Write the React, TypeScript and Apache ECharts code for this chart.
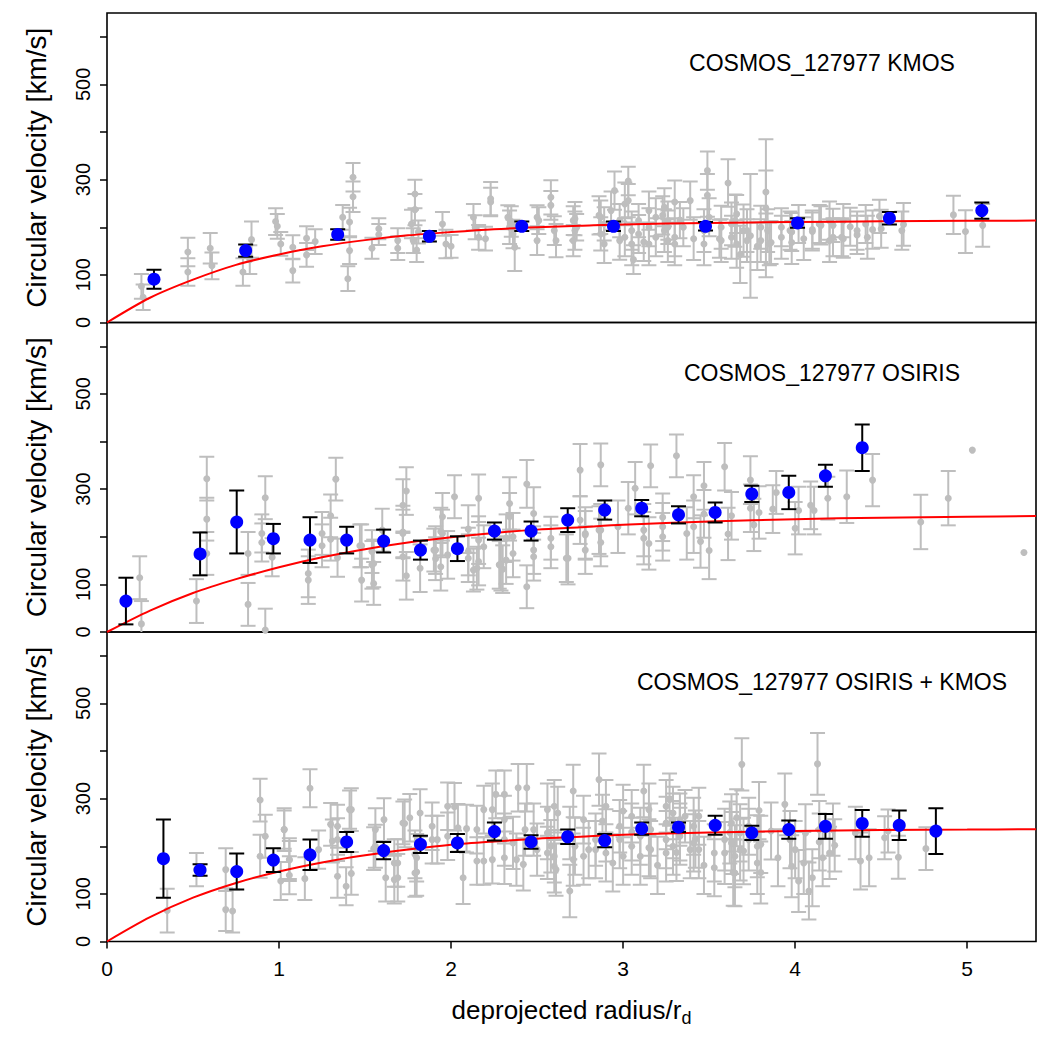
import React, { useEffect, useRef } from "react";
import * as echarts from "echarts";

const FONT = "'Liberation Sans', Arial, Helvetica, sans-serif";

const panelTitles = [
  "COSMOS_127977 KMOS",
  "COSMOS_127977 OSIRIS",
  "COSMOS_127977 OSIRIS + KMOS",
];

const radiusTicks = [0, 1, 2, 3, 4, 5];
const velocityTicks = [0, 100, 200, 300, 400, 500, 600];
const velocityLabels = [0, 100, 300, 500];

// Individual spaxels: [radius / r_d, circular velocity (km/s), 1-sigma error]
const kmosSpaxels = [
  [0.2, 76, 26], [0.21, 53, 27], [0.47, 148, 30], [0.47, 106, 29], [0.6, 156, 32], [0.61, 119, 28],
  [0.79, 106, 29], [0.84, 174, 38], [0.83, 132, 30], [0.98, 212, 28], [0.99, 202, 26], [1.01, 165, 25],
  [1.08, 158, 25], [1.08, 109, 25], [1.16, 177, 25], [1.16, 142, 25], [1.21, 170, 26], [1.37, 221, 26],
  [1.4, 92, 26], [1.41, 211, 30], [1.41, 151, 28], [1.43, 305, 30], [1.43, 264, 32], [1.54, 156, 22],
  [1.58, 197, 22], [1.58, 185, 22], [1.69, 172, 26], [1.69, 156, 25], [1.77, 207, 30], [1.78, 172, 26],
  [1.79, 270, 30], [1.79, 237, 33], [1.8, 152, 25], [1.81, 190, 24], [1.95, 207, 25], [1.97, 165, 30],
  [2.0, 160, 24], [2.13, 221, 28], [2.14, 200, 25], [2.16, 179, 26], [2.2, 176, 25], [2.23, 260, 35],
  [2.23, 253, 30], [2.33, 221, 25], [2.34, 200, 35], [2.35, 212, 32], [2.36, 186, 30], [2.37, 158, 50],
  [2.5, 221, 25], [2.5, 172, 30], [2.51, 214, 28], [2.58, 263, 36], [2.58, 246, 30], [2.6, 193, 30],
  [2.61, 172, 35], [2.71, 214, 30], [2.71, 172, 33], [2.73, 200, 28], [2.87, 221, 35], [2.87, 186, 35],
  [2.95, 277, 40], [3.01, 249, 45], [3.01, 179, 40], [3.03, 297, 30], [3.03, 256, 35], [3.06, 132, 30],
  [3.09, 214, 35], [3.09, 186, 40], [3.12, 169, 40], [3.23, 225, 40], [3.26, 200, 35], [3.3, 179, 40],
  [3.33, 215, 38], [3.39, 256, 40], [3.41, 176, 45], [3.49, 319, 40], [3.49, 267, 45], [3.56, 176, 40],
  [3.61, 293, 50], [3.65, 214, 55], [3.68, 143, 60], [3.7, 193, 55], [3.74, 182, 130], [3.78, 160, 50],
  [3.83, 274, 45], [3.83, 240, 145], [3.84, 193, 45], [3.86, 168, 45], [3.92, 200, 40], [3.98, 190, 40],
  [3.98, 168, 45], [4.05, 176, 45], [4.1, 195, 40], [4.15, 204, 40], [4.22, 204, 35], [4.22, 179, 40],
  [4.28, 176, 40], [4.28, 214, 35], [4.32, 201, 40], [4.36, 184, 40], [4.42, 179, 45], [4.45, 195, 40],
  [4.49, 223, 35], [4.5, 197, 40], [4.62, 193, 40], [4.63, 206, 45], [4.92, 226, 40], [4.99, 191, 45],
  [5.09, 204, 45],
  [2.72, 218, 35], [2.72, 193, 40], [2.86, 225, 40], [2.89, 207, 35], [2.89, 165, 40], [2.93, 235, 40],
  [2.98, 214, 35], [2.98, 172, 40], [3.05, 193, 40], [3.05, 165, 45], [3.15, 235, 40], [3.15, 200, 40],
  [3.15, 165, 45], [3.19, 221, 40], [3.19, 179, 40], [3.24, 242, 40], [3.24, 193, 45], [3.26, 214, 40],
  [3.26, 172, 45], [3.3, 253, 45], [3.3, 165, 45], [3.35, 200, 40], [3.47, 193, 45], [3.47, 165, 45],
  [3.5, 221, 40], [3.57, 200, 45], [3.57, 172, 45], [3.63, 207, 45], [3.63, 179, 45], [3.66, 228, 40],
  [3.66, 165, 50], [3.72, 193, 45], [3.72, 172, 45], [3.8, 200, 45], [3.8, 172, 45], [3.85, 165, 45],
  [3.92, 179, 45], [3.97, 193, 40], [4.02, 207, 40], [4.1, 191, 40], [4.14, 207, 40], [4.2, 214, 40],
  [4.2, 172, 45], [4.27, 179, 40], [4.36, 193, 40], [4.41, 207, 40],
];

const osirisSpaxels = [
  [0.19, 114, 45], [0.2, 17, 48], [0.52, 65, 46], [0.58, 322, 46], [0.58, 237, 45], [0.58, 165, 45],
  [0.82, 165, 45], [0.82, 58, 45], [0.92, 282, 45], [0.92, 4, 45], [0.9, 207, 40], [0.9, 188, 40],
  [0.96, 157, 40], [1.17, 123, 50], [1.17, 109, 50], [1.25, 207, 45], [1.3, 244, 45], [1.3, 195, 45],
  [1.33, 321, 45], [1.34, 156, 40], [1.48, 181, 45], [1.48, 109, 45], [1.55, 144, 50], [1.55, 102, 45],
  [1.72, 266, 55], [1.72, 210, 55], [1.72, 158, 50], [1.74, 296, 50], [1.74, 118, 50], [1.82, 134, 50],
  [1.91, 172, 50], [1.91, 154, 45], [1.95, 242, 50], [1.95, 207, 50], [2.02, 284, 45], [2.1, 216, 50],
  [2.1, 155, 50], [2.15, 134, 45], [2.16, 281, 50], [2.16, 193, 50], [2.29, 142, 55], [2.3, 132, 50],
  [2.34, 270, 55], [2.34, 242, 50], [2.36, 200, 50], [2.36, 165, 50], [2.44, 311, 50], [2.44, 95, 45],
  [2.48, 249, 55], [2.48, 172, 50], [2.58, 197, 45], [2.68, 155, 55], [2.75, 340, 55], [2.75, 235, 50],
  [2.78, 207, 55], [2.78, 172, 50], [2.87, 351, 45], [2.87, 214, 55], [2.87, 188, 50], [2.97, 221, 55],
  [3.03, 260, 55], [3.07, 302, 55], [3.12, 214, 55], [3.12, 197, 55], [3.15, 186, 55], [3.16, 349, 45],
  [3.23, 221, 50], [3.23, 200, 50], [3.23, 241, 50], [3.31, 370, 45], [3.37, 207, 55], [3.41, 284, 45],
  [3.41, 221, 55], [3.45, 190, 55], [3.47, 307, 50], [3.47, 248, 50], [3.5, 171, 60], [3.59, 347, 50],
  [3.61, 206, 55], [3.63, 244, 50], [3.74, 319, 50], [3.74, 260, 50], [3.76, 225, 55], [3.79, 251, 55],
  [3.87, 258, 50], [3.89, 293, 45], [4.0, 218, 55], [4.02, 255, 50], [4.09, 266, 50], [4.11, 255, 50],
  [4.19, 281, 45], [4.3, 284, 55], [4.45, 319, 55], [4.73, 231, 57], [4.89, 281, 57], [5.03, 382, 0],
  [5.33, 167, 0],
  [1.25, 181, 45], [1.47, 181, 45], [1.54, 169, 45], [1.54, 141, 50], [1.6, 214, 45], [1.72, 207, 50],
  [1.9, 172, 45], [1.94, 211, 50], [1.94, 137, 50], [1.98, 162, 50], [2.1, 169, 50], [2.13, 130, 45],
  [2.16, 148, 50], [2.19, 179, 45], [2.28, 141, 50], [2.32, 197, 50], [2.32, 151, 50], [2.48, 158, 50],
  [2.58, 179, 45], [2.67, 155, 50], [2.78, 204, 50], [2.86, 214, 50],
];

const combinedSpaxels = [
  [0.35, 65, 46], [0.52, 151, 35], [0.69, 151, 45], [0.69, 67, 45], [0.73, 64, 45], [0.89, 297, 45],
  [0.89, 179, 45], [0.92, 221, 45], [1.01, 127, 40], [1.03, 235, 45], [1.06, 139, 40], [1.06, 171, 40],
  [1.15, 132, 45], [1.18, 322, 40], [1.23, 193, 40], [1.31, 211, 45], [1.34, 137, 45], [1.34, 242, 45],
  [1.39, 116, 40], [1.42, 277, 45], [1.42, 143, 45], [1.55, 195, 45], [1.61, 256, 45], [1.62, 134, 50],
  [1.69, 134, 50], [1.69, 165, 50], [1.73, 248, 50], [1.76, 260, 50], [1.8, 146, 50], [1.8, 176, 50],
  [1.82, 270, 50], [1.92, 214, 50], [2.02, 283, 50], [2.07, 134, 55], [2.09, 237, 50], [2.19, 169, 50],
  [2.24, 277, 55], [2.24, 172, 50], [2.31, 309, 50], [2.36, 207, 55], [2.38, 172, 55], [2.42, 162, 55],
  [2.44, 323, 50], [2.48, 235, 55], [2.58, 200, 55], [2.6, 158, 55], [2.61, 151, 55], [2.62, 270, 55],
  [2.69, 106, 55], [2.71, 316, 55], [2.71, 172, 55], [2.77, 256, 50], [2.8, 193, 60], [2.86, 340, 55],
  [2.88, 253, 55], [2.9, 223, 55], [2.94, 165, 60], [3.0, 274, 55], [3.0, 179, 60], [3.05, 230, 60],
  [3.12, 316, 55], [3.15, 277, 55], [3.15, 197, 60], [3.2, 160, 60], [3.27, 298, 55], [3.29, 256, 55],
  [3.31, 187, 60], [3.33, 230, 60], [3.36, 263, 55], [3.39, 193, 60], [3.42, 215, 60], [3.47, 160, 60],
  [3.53, 186, 60], [3.53, 155, 60], [3.62, 229, 65], [3.64, 145, 70], [3.66, 260, 60], [3.69, 372, 55],
  [3.7, 190, 70], [3.79, 275, 60], [3.8, 204, 60], [3.8, 145, 65], [3.86, 232, 60], [3.9, 176, 60],
  [3.94, 288, 65], [3.98, 158, 65], [4.02, 127, 65], [4.05, 165, 65], [4.08, 106, 60], [4.1, 134, 60],
  [4.13, 373, 65], [4.14, 209, 60], [4.16, 176, 60], [4.2, 186, 55], [4.23, 202, 55], [4.35, 228, 55],
  [4.38, 169, 60], [4.43, 176, 60], [4.52, 218, 45], [4.54, 232, 45], [4.6, 177, 45], [4.76, 195, 45],
  [1.03, 235, 40], [1.06, 172, 45], [1.3, 246, 45], [1.34, 214, 45], [1.41, 277, 40], [1.56, 235, 45],
  [1.56, 200, 45], [1.67, 165, 50], [1.67, 130, 50], [1.72, 249, 45], [1.79, 183, 50], [1.79, 144, 50],
  [1.89, 242, 50], [1.89, 214, 50], [1.98, 284, 50], [1.98, 221, 50], [2.04, 239, 50], [2.15, 235, 50],
  [2.15, 169, 50], [2.19, 277, 50], [2.26, 309, 50], [2.31, 256, 50], [2.31, 214, 55], [2.31, 176, 55],
  [2.39, 323, 50], [2.43, 235, 55], [2.5, 193, 55], [2.56, 277, 55], [2.56, 228, 55], [2.56, 186, 55],
  [2.6, 284, 55], [2.6, 179, 55], [2.69, 228, 55], [2.72, 200, 60], [2.77, 179, 60], [2.84, 214, 55],
  [2.84, 193, 60], [2.9, 284, 55], [2.9, 186, 60], [2.98, 242, 55], [2.98, 214, 60], [3.05, 263, 55],
  [3.05, 200, 60], [3.1, 221, 60], [3.1, 179, 60], [3.16, 235, 55], [3.16, 193, 60], [3.25, 284, 55],
  [3.25, 249, 55], [3.25, 214, 60], [3.25, 186, 60], [3.29, 270, 55], [3.29, 235, 60], [3.29, 200, 60],
  [3.33, 256, 55], [3.33, 221, 60], [3.41, 242, 60], [3.41, 207, 60], [3.44, 263, 60], [3.44, 193, 60],
  [3.59, 214, 65], [3.59, 186, 65], [3.63, 249, 60], [3.63, 207, 65], [3.65, 179, 65], [3.65, 144, 70],
  [3.68, 228, 60], [3.68, 193, 65], [3.73, 242, 60], [3.73, 214, 65], [3.78, 200, 65], [3.78, 165, 65],
  [3.97, 214, 60], [4.0, 193, 60], [4.06, 228, 60], [4.14, 235, 60], [4.22, 235, 55],
];

// Radially binned velocities: [radius / r_d, circular velocity (km/s), error]
const kmosBins = [
  [0.273, 91, 20], [0.806, 151, 13], [1.341, 185, 11], [1.874, 181, 11], [2.411, 202, 10],
  [2.944, 202, 10], [3.479, 202, 9], [4.014, 209, 10], [4.548, 219, 13], [5.085, 235, 17],
];

const osirisBins = [
  [0.11, 65, 49], [0.541, 164, 45], [0.754, 231, 66], [0.967, 196, 31], [1.18, 193, 48],
  [1.393, 193, 28], [1.608, 191, 24], [1.822, 172, 20], [2.037, 175, 26], [2.252, 212, 18],
  [2.465, 212, 20], [2.678, 235, 25], [2.893, 256, 20], [3.108, 260, 17], [3.322, 246, 18],
  [3.535, 251, 21], [3.748, 290, 17], [3.963, 293, 35], [4.176, 328, 23], [4.39, 387, 49],
];

const combinedBins = [
  [0.328, 174, 82], [0.541, 150, 12], [0.754, 147, 38], [0.967, 171, 25], [1.18, 182, 32],
  [1.393, 209, 21], [1.608, 191, 18], [1.822, 204, 18], [2.037, 207, 19], [2.252, 231, 19],
  [2.465, 209, 14], [2.678, 220, 15], [2.893, 212, 14], [3.108, 237, 13], [3.322, 240, 10],
  [3.535, 244, 20], [3.748, 228, 15], [3.963, 235, 19], [4.176, 242, 26], [4.39, 248, 28],
  [4.605, 244, 31], [4.818, 232, 48],
];

// Best-fit rotation curve models: [radius / r_d, circular velocity (km/s)]
const kmosModel = [
  [0, 0], [0.25, 52], [0.5, 90], [0.75, 121], [1.0, 143], [1.25, 160], [1.5, 173], [1.75, 183],
  [2.0, 190], [2.25, 196], [2.5, 200], [2.75, 203], [3.0, 206], [3.5, 209], [4.0, 211],
  [4.5, 212.5], [5.0, 213.5], [5.4, 214],
];

const osirisModel = [
  [0, 0], [0.25, 45], [0.5, 82], [0.75, 111], [1.0, 136], [1.25, 157], [1.5, 174], [1.75, 188],
  [2.0, 199], [2.25, 208], [2.5, 215], [2.75, 220], [3.0, 225], [3.5, 232], [4.0, 237],
  [4.5, 240], [5.0, 242], [5.4, 243.5],
];

const combinedModel = [
  [0, 0], [0.25, 51], [0.5, 92], [0.75, 123], [1.0, 147], [1.25, 166], [1.5, 181], [1.75, 193],
  [2.0, 203], [2.25, 210], [2.5, 216], [2.75, 220], [3.0, 224], [3.5, 229], [4.0, 232],
  [4.5, 234], [5.0, 235], [5.4, 236],
];

const panels = [
  { spaxels: kmosSpaxels, bins: kmosBins, model: kmosModel },
  { spaxels: osirisSpaxels, bins: osirisBins, model: osirisModel },
  { spaxels: combinedSpaxels, bins: combinedBins, model: combinedModel },
];

const PLOT_LEFT = 107;
const PLOT_RIGHT = 14;
const PANEL_TOPS = [13, 322.5, 632];
const PANEL_HEIGHT = 309.5;
const TITLE_X = 822;

const errorBars = (color: string, width: number, cap: number) =>
  (_params: any, api: any) => {
    const x = api.value(0);
    const y = api.value(1);
    const e = api.value(2);
    if (!e) return { type: "group", children: [] };
    const top = api.coord([x, y + e]);
    const bottom = api.coord([x, y - e]);
    const style = { stroke: color, lineWidth: width };
    return {
      type: "group",
      children: [
        { type: "line", shape: { x1: top[0], y1: top[1], x2: bottom[0], y2: bottom[1] }, style },
        { type: "line", shape: { x1: top[0] - cap, y1: top[1], x2: top[0] + cap, y2: top[1] }, style },
        { type: "line", shape: { x1: bottom[0] - cap, y1: bottom[1], x2: bottom[0] + cap, y2: bottom[1] }, style },
      ],
    };
  };

export default function App() {
  const ref = useRef<HTMLDivElement>(null);

  useEffect(() => {
    if (!ref.current) return;
    const chart = echarts.init(ref.current, null, { renderer: "svg" });

    const grid = PANEL_TOPS.map((top) => ({
      left: PLOT_LEFT,
      right: PLOT_RIGHT,
      top,
      height: PANEL_HEIGHT,
      show: true,
      borderColor: "#000",
      borderWidth: 1.6,
      backgroundColor: "transparent",
    }));

    const xAxis = PANEL_TOPS.map((_, i) => {
      const bottom = i === PANEL_TOPS.length - 1;
      return {
        type: "value",
        gridIndex: i,
        min: 0,
        max: 5.4,
        axisLine: { show: false },
        splitLine: { show: false },
        axisTick: {
          show: bottom,
          customValues: radiusTicks,
          length: 7,
          lineStyle: { color: "#000", width: 1.5 },
        },
        axisLabel: {
          show: bottom,
          customValues: radiusTicks,
          margin: 16,
          fontSize: 21,
          color: "#000",
          fontFamily: FONT,
        },
        name: bottom ? "{main|deprojected radius/r}{sub|d}" : "",
        nameLocation: "middle",
        nameGap: 52,
        nameTextStyle: {
          rich: {
            main: { fontSize: 26, color: "#000", fontFamily: FONT },
            sub: { fontSize: 18, color: "#000", fontFamily: FONT, padding: [15, 0, 0, 0] },
          },
        },
      };
    });

    const yAxis = PANEL_TOPS.map((_, i) => ({
      type: "value",
      gridIndex: i,
      min: 0,
      max: 650,
      axisLine: { show: false },
      splitLine: { show: false },
      axisTick: {
        show: true,
        customValues: velocityTicks,
        length: 7,
        lineStyle: { color: "#000", width: 1.5 },
      },
      axisLabel: {
        customValues: velocityLabels,
        rotate: 90,
        margin: 14,
        fontSize: 20,
        color: "#000",
        fontFamily: FONT,
      },
      name: "Circular velocity [km/s]",
      nameLocation: "middle",
      nameRotate: 90,
      nameGap: 57,
      nameTextStyle: { fontSize: 28, color: "#000", fontFamily: FONT },
    }));

    const series: any[] = [];
    panels.forEach((p, i) => {
      series.push({
        type: "custom",
        xAxisIndex: i,
        yAxisIndex: i,
        clip: true,
        renderItem: errorBars("#bebebe", 2, 7.5),
        data: p.spaxels,
        encode: { x: 0, y: 1 },
        z: 1,
      });
      series.push({
        type: "scatter",
        xAxisIndex: i,
        yAxisIndex: i,
        symbol: "circle",
        symbolSize: 7,
        itemStyle: { color: "#bebebe", opacity: 1 },
        data: p.spaxels.map((d) => [d[0], d[1]]),
        z: 2,
      });
      series.push({
        type: "line",
        xAxisIndex: i,
        yAxisIndex: i,
        data: p.model,
        smooth: 0.3,
        showSymbol: false,
        symbol: "none",
        lineStyle: { color: "#ff0000", width: 2 },
        z: 3,
      });
      series.push({
        type: "custom",
        xAxisIndex: i,
        yAxisIndex: i,
        clip: true,
        renderItem: errorBars("#000", 2, 7.5),
        data: p.bins,
        encode: { x: 0, y: 1 },
        z: 4,
      });
      series.push({
        type: "scatter",
        xAxisIndex: i,
        yAxisIndex: i,
        symbol: "circle",
        symbolSize: 13,
        itemStyle: { color: "#0000ff", opacity: 1 },
        data: p.bins.map((d) => [d[0], d[1]]),
        z: 5,
      });
    });

    const graphic = panelTitles.map((t, i) => ({
      type: "text",
      x: TITLE_X,
      y: PANEL_TOPS[i] + 50,
      z: 10,
      style: {
        text: t,
        fill: "#000",
        font: `23px ${FONT}`,
        textAlign: "center",
        textVerticalAlign: "middle",
      },
    }));

    chart.setOption({
      animation: false,
      backgroundColor: "#fff",
      grid,
      xAxis,
      yAxis,
      series,
      graphic,
    });

    return () => chart.dispose();
  }, []);

  return (
    <div
      ref={ref}
      style={{ position: "absolute", left: 0, top: 0, width: 1050, height: 1050, background: "#fff" }}
    />
  );
}
